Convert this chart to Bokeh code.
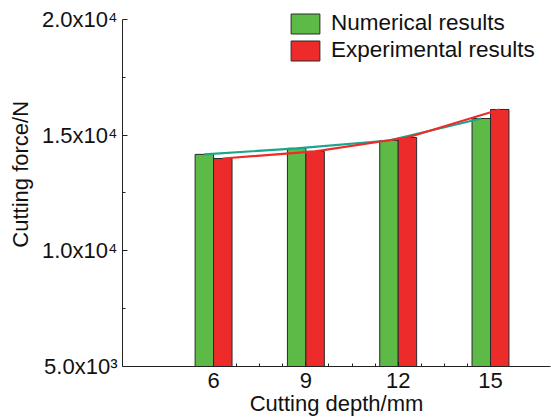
from bokeh.plotting import figure
from bokeh.models import FixedTicker, Range1d, Legend, LegendItem, ColumnDataSource
from bokeh.embed import file_html
from bokeh.resources import INLINE

depths = [6, 9, 12, 15]
numerical = [14170, 14430, 14770, 15720]
experimental = [13990, 14300, 14900, 16110]
y_tick_labels = {5000: "5.0x10³", 10000: "1.0x10⁴", 15000: "1.5x10⁴", 20000: "2.0x10⁴"}

FONT = "Liberation Sans"
GREEN = "#5dba46"
RED = "#ee2b2b"
TEAL = "#1aa58c"

bw = 0.6
src = ColumnDataSource(dict(
    xn=[d - bw / 2 for d in depths],
    xe=[d + bw / 2 for d in depths],
    num=numerical, exp=experimental,
))

p = figure(width=551, height=419, output_backend="svg", toolbar_location=None,
           x_range=Range1d(3.04, 16.95), y_range=Range1d(5000, 20821),
           min_border_left=122, min_border_right=1, min_border_top=0, min_border_bottom=53)
p.outline_line_color = None
p.grid.visible = False
p.background_fill_color = "white"
p.border_fill_color = "white"

rn = p.vbar(x="xn", top="num", bottom=5000, width=bw, source=src,
            fill_color=GREEN, line_color="#2a2a2a", line_width=1)
re = p.vbar(x="xe", top="exp", bottom=5000, width=bw, source=src,
            fill_color=RED, line_color="#2a2a2a", line_width=1)
p.line(x="xn", y="num", source=src, line_color=TEAL, line_width=2.2)
p.line(x="xe", y="exp", source=src, line_color=RED, line_width=2.2)

# axes
minor_x = []
for a in depths[:-1]:
    minor_x += [a + 0.75, a + 1.5, a + 2.25]
p.xaxis.ticker = FixedTicker(ticks=depths, minor_ticks=minor_x)
p.yaxis.ticker = FixedTicker(ticks=list(y_tick_labels.keys()), minor_ticks=[7500, 12500, 17500])
p.yaxis.major_label_overrides = y_tick_labels
p.yaxis.bounds = (5000, 20000)

for ax in (p.xaxis[0], p.yaxis[0]):
    ax.axis_line_color = "#222222"
    ax.axis_line_width = 1
    ax.major_tick_line_color = "#222222"
    ax.minor_tick_line_color = "#222222"
    ax.major_tick_in = 5
    ax.major_tick_out = 0
    ax.minor_tick_in = 3
    ax.minor_tick_out = 0
    ax.major_label_text_font = FONT
    ax.major_label_text_font_size = "22px"
    ax.major_label_text_color = "#111111"
    ax.axis_label_text_font = FONT
    ax.axis_label_text_font_size = "22px"
    ax.axis_label_text_font_style = "normal"
    ax.axis_label_text_color = "#111111"

p.xaxis.axis_label = "Cutting depth/mm"
p.yaxis.axis_label = "\u00a0\u00a0\u00a0Cutting force/N"
p.xaxis.major_label_standoff = 6
p.xaxis.axis_label_standoff = 0
p.yaxis.major_label_standoff = 5
p.yaxis.axis_label_standoff = 6

legend = Legend(items=[LegendItem(label="Numerical results", renderers=[rn]),
                       LegendItem(label="Experimental results", renderers=[re])],
                location=(165, 303))
legend.border_line_color = None
legend.background_fill_alpha = 0
legend.padding = 0
legend.margin = 0
legend.spacing = 1
legend.glyph_width = 36
legend.glyph_height = 25
legend.label_height = 25
legend.label_standoff = 8
legend.label_text_font = FONT
legend.label_text_font_size = "22.5px"
legend.label_text_color = "#111111"
p.add_layout(legend, "center")

open("out.html", "w").write(file_html(p, INLINE))
